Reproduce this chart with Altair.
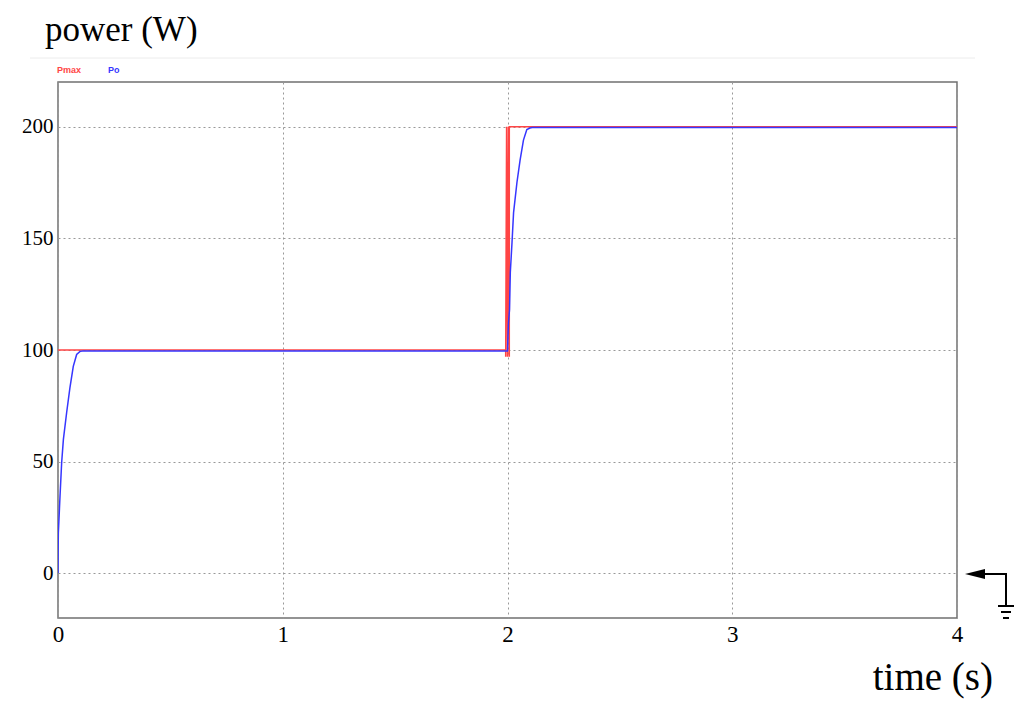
import altair as alt
import pandas as pd

# Pmax (red) - step from 100 W to 200 W at t = 2 s (with a short ringing band)
pmax_t = [0.0, 1.992, 1.992, 1.996, 2.0, 2.004, 2.008, 2.008, 4.0]
pmax_v = [100, 100, 97, 200, 97, 200, 97, 200, 200]

# Po (blue) - tracking response
po_t = [0.0, 0.0005, 0.0015, 0.009, 0.0163, 0.024, 0.0385, 0.053, 0.068, 0.083, 0.098, 0.11,
        2.0, 2.004, 2.009, 2.0125, 2.02, 2.027, 2.042, 2.056, 2.071, 2.086, 2.1, 2.11, 4.0]
po_v = [0, 9, 18, 34.6, 49.6, 60, 72, 83, 92.7, 98, 99.4, 99.6,
        99.6, 112, 118, 134.7, 148, 161.5, 175, 185, 194, 198.7, 199.4, 199.6, 199.6]

x_ticks = [0, 1, 2, 3, 4]
y_ticks = [0, 50, 100, 150, 200]

RED = "#ff4545"
BLUE = "#3636ff"
W, H = 899, 536

df = pd.concat([
    pd.DataFrame({"t": pmax_t, "v": pmax_v, "s": "Pmax", "o": range(len(pmax_t))}),
    pd.DataFrame({"t": po_t, "v": po_v, "s": "Po", "o": range(len(po_t))}),
])

x_enc = alt.X("t:Q", scale=alt.Scale(domain=[0, 4], nice=False, zero=False),
              axis=alt.Axis(values=x_ticks, title=None, ticks=False, domain=False,
                            labelFont="Liberation Serif", labelFontSize=23, labelColor="#000",
                            labelPadding=5, gridColor="#999999", gridDash=[2, 3], gridWidth=1,
                            format="d", labelFlush=False))
y_enc = alt.Y("v:Q", scale=alt.Scale(domain=[-20, 220], nice=False, zero=False),
              axis=alt.Axis(values=y_ticks, title=None, ticks=False, domain=False,
                            labelFont="Liberation Serif", labelFontSize=21, labelColor="#000",
                            labelPadding=5, gridColor="#999999", gridDash=[2, 3], gridWidth=1,
                            format="d"))

lines = alt.Chart(df).mark_line(strokeWidth=1.5, clip=True).encode(
    x=x_enc, y=y_enc,
    color=alt.Color("s:N", scale=alt.Scale(domain=["Pmax", "Po"], range=[RED, BLUE]), legend=None),
    order="o:Q",
    detail="s:N",
)

blank = alt.Chart(pd.DataFrame({"a": [0]}))

title = blank.mark_text(text="power (W)", font="Liberation Serif", fontSize=35, align="left",
                        baseline="alphabetic", color="#000").encode(x=alt.value(-13), y=alt.value(-41))
sep = blank.mark_rule(color="#ececec", strokeWidth=1).encode(
    x=alt.value(-28), x2=alt.value(917), y=alt.value(-24))
leg1 = blank.mark_text(text="Pmax", font="Liberation Sans", fontSize=9, fontWeight="bold",
                       align="left", baseline="middle", color=RED).encode(x=alt.value(-1), y=alt.value(-12))
leg2 = blank.mark_text(text="Po", font="Liberation Sans", fontSize=9, fontWeight="bold",
                       align="left", baseline="middle", color=BLUE).encode(x=alt.value(50), y=alt.value(-12))
xtitle = blank.mark_text(text="time (s)", font="Liberation Serif", fontSize=39, align="right",
                         baseline="alphabetic", color="#000").encode(x=alt.value(935), y=alt.value(608))

# ground marker at the right side (y = 0 level)
gy = 492
arrow = blank.mark_point(shape="M -1 0 L 1 -0.5 L 1 0.5 Z", filled=True, color="#000", size=400,
                         opacity=1).encode(x=alt.value(917), y=alt.value(gy))
g_h = blank.mark_rule(color="#000", strokeWidth=2).encode(x=alt.value(925), x2=alt.value(949), y=alt.value(gy))
g_v = blank.mark_rule(color="#000", strokeWidth=2).encode(x=alt.value(948), y=alt.value(gy), y2=alt.value(523))
g_1 = blank.mark_rule(color="#000", strokeWidth=2).encode(x=alt.value(940), x2=alt.value(956), y=alt.value(524))
g_2 = blank.mark_rule(color="#000", strokeWidth=2).encode(x=alt.value(943), x2=alt.value(953), y=alt.value(530))
g_3 = blank.mark_rule(color="#000", strokeWidth=2).encode(x=alt.value(945), x2=alt.value(951), y=alt.value(536))

chart = alt.layer(lines, title, sep, leg1, leg2, xtitle, arrow, g_h, g_v, g_1, g_2, g_3).properties(
    width=W, height=H,
    autosize=alt.AutoSizeParams(type="none"),
    padding={"left": 50, "top": 74, "right": 59, "bottom": 94},
    background="white",
).configure_view(stroke="#707070", strokeWidth=1.5)

chart.save("out.html", embed_options={"renderer": "svg", "actions": False})
